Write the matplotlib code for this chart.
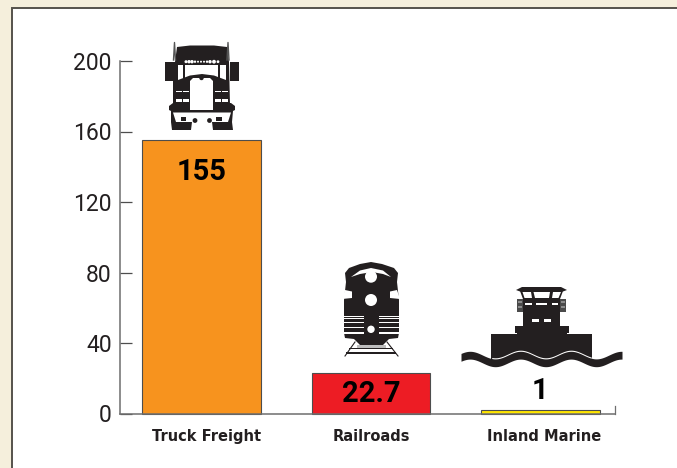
import matplotlib
matplotlib.use("Agg")
import matplotlib.pyplot as plt
import numpy as np
from matplotlib.patches import Circle, Polygon, Rectangle
from matplotlib.transforms import ScaledTranslation

categories = ["Truck Freight", "Railroads", "Inland Marine"]
values = [155, 22.7, 1]
value_labels = ["155", "22.7", "1"]
bar_colors = ["#F7931E", "#ED1C24", "#FFE600"]
y_ticks = [0, 40, 80, 120, 160, 200]

W, H = 677, 468
DARK = "#231F20"
plt.rcParams["font.family"] = ["Roboto", "DejaVu Sans"]

fig = plt.figure(figsize=(W / 100, H / 100), dpi=100, facecolor="#F5EFDC")

# pixel overlay for the panel and the icons
bg = fig.add_axes([0, 0, 1, 1], zorder=0)
bg.set_xlim(0, W)
bg.set_ylim(H, 0)
bg.axis("off")
bg.add_patch(Rectangle((11.5, 8), W, H, fc="white", ec="#55524C", lw=1.4))

ax = fig.add_axes([120 / W, 1 - 413.5 / H, 495 / W, 352.5 / H], zorder=1)
ax.patch.set_alpha(0)
x = np.arange(len(categories))
# the source gives the smallest bar a minimum height so its colour shows
shown = [max(v, 1.8) for v in values]
ax.bar(x, shown, width=0.7, color=bar_colors, edgecolor="#4D4D4D", linewidth=0.8, clip_on=False)
ax.set_xlim(-0.481, 2.44)
ax.set_ylim(0, 200)
ax.set_yticks(y_ticks)
ax.set_xticks(x, categories, fontweight="bold", fontsize=10.5, color=DARK, family=["DejaVu Sans"])
ax.tick_params(axis="y", direction="in", length=8.5, width=0.9, color="#4D4D4D", labelsize=16.5,
               labelcolor=DARK, pad=6)
ax.tick_params(axis="x", length=0, pad=11)
# the category labels sit a little right of their bars in the source
for lbl, dx in zip(ax.get_xticklabels(), [5, 0, 3.5]):
    lbl.set_transform(lbl.get_transform() + ScaledTranslation(dx / 100, 0, fig.dpi_scale_trans))
for side in ["top", "right"]:
    ax.spines[side].set_visible(False)
for side in ["left", "bottom"]:
    ax.spines[side].set_color("#6E6E6E")
    ax.spines[side].set_linewidth(1.1)
ax.plot([1, 1], [0, 0.022], transform=ax.transAxes, color="#6E6E6E", lw=0.9, clip_on=False)

label_y = [137, 11, 13]
for xi, text, yi in zip(x, value_labels, label_y):
    ax.text(xi, yi, text, ha="center", va="center", fontsize=21, fontweight="bold", color="black")


def poly(pts, color=DARK, z=2):
    bg.add_patch(Polygon(pts, closed=True, fc=color, ec="none", zorder=z))


def box(x0, y0, x1, y1, color=DARK, z=2):
    bg.add_patch(Rectangle((x0, y0), x1 - x0, y1 - y0, fc=color, ec="none", zorder=z))


def dot(cx, cy, r, color="white", z=3):
    bg.add_patch(Circle((cx, cy), r, fc=color, ec="none", zorder=z))


# truck
poly([(175, 62), (177, 47), (190, 45.5), (214, 45.5), (227, 47), (229, 62), (230, 105), (173, 105), (173, 62)])
box(164.5, 62, 173.5, 81)
box(229.5, 62, 238.5, 81)
for sx in [174.5, 228]:
    bg.plot([sx - 1, sx, sx + 1], [60, 42.5, 60], color="#555555", lw=1, zorder=2)
poly([(178, 65), (226, 65), (226, 80), (214, 75.5), (202, 74), (190, 75.5), (178, 80)], "white", 3)
box(183, 65, 185, 78, DARK, 3)
box(218, 65, 220, 78, DARK, 3)
poly([(190, 81), (193, 78), (210, 78), (213, 81), (213, 110), (190, 110)], "white", 4)
dot(201.5, 78, 2.2, DARK, 5)
for lx, lr in zip([186, 189, 192, 195, 198, 201, 204, 207, 210, 214, 218], [1.5, 1.7, 1.7, 1.2, 1, 1, 1, 1.2, 1.7, 1.9, 1.4]):
    dot(lx, 61.7, lr)
for lx0, lx1 in [(176, 181.5), (183, 188.5), (215, 220.5), (222, 227.5)]:
    box(lx0, 98.5, lx1, 102, "white", 3)
    box(lx0, 90.5, lx1, 91.5, "white", 3)
poly([(169, 106), (173, 103), (231, 103), (235, 106), (235, 110), (231, 112), (173, 112), (169, 110)])
poly([(171, 111), (233, 111), (232, 122), (233, 130), (213, 130), (212, 122), (192, 122), (191, 130), (172, 130), (171, 122)])
poly([(173, 112.5), (231, 112.5), (228, 122), (176, 122)], "white", 3)
for bx0, bx1 in [(181, 186), (216, 222)]:
    box(bx0, 117, bx1, 120.5, DARK, 4)
dot(195, 120.5, 2.4, DARK, 4)
dot(209.5, 120.5, 2.4, DARK, 4)

# locomotive
poly([(345, 273), (349, 268), (360, 264), (371, 262), (382, 264), (394, 268), (398, 273),
      (397, 282), (399, 300), (399, 333), (398, 338), (389, 339), (383, 345),
      (360, 345), (354, 339), (345, 338), (344, 333), (344, 300), (346, 282)])
poly([(351, 277), (360, 270.5), (371, 268), (383, 270.5), (391, 277), (383, 274), (372, 272),
      (360, 274)], "white", 3)
dot(371, 276.7, 6)
dot(371, 300, 6)
dot(371, 329.3, 3.7)
poly([(342, 299), (345, 290), (352, 291.5), (352, 298)], "white", 3)
poly([(400, 299), (397, 290), (390, 291.5), (390, 298)], "white", 3)
for sy, sh in [(315.8, 1), (318.3, 0.9), (321.5, 1), (327, 1.4), (332, 1.6)]:
    box(344, sy, 364, sy + sh, "white", 3)
    box(379, sy, 399, sy + sh, "white", 3)
box(357, 345, 386, 347.5, "#BDBDBD", 2)
box(349, 348, 393, 349, DARK, 2)
box(346, 352, 396, 353.5, DARK, 2)
bg.plot([355, 345], [342, 356], color=DARK, lw=0.8, zorder=2)
bg.plot([387, 398], [342, 356], color=DARK, lw=0.8, zorder=2)

# boat
box(491, 334, 592, 362)
box(514.5, 326, 569, 332.5)
box(517, 332, 567, 334.5)
poly([(520, 291), (563, 291), (560, 299), (523, 299)])
box(523, 298, 560, 326)
poly([(516, 290), (522, 287), (561, 287), (567, 290), (563, 291.5), (520, 291.5)])
for pane in [[(522.5, 292), (531, 292), (532, 298), (524.5, 298)],
             [(533.5, 292), (550, 292), (549, 298), (535, 298)],
             [(553, 292), (561, 292), (558.5, 298), (552, 298)]]:
    poly(pane, "white", 3)
for wx in [(525, 532), (536, 547), (552, 558)]:
    box(wx[0], 302.5, wx[1], 304.5, "white", 3)
for wx in [(532, 539), (544, 551)]:
    box(wx[0], 319, wx[1], 321.5, "white", 3)
for rx0, rx1 in [(517, 523), (560, 566)]:
    box(rx0, 299, rx1, 312, "#4A4A4A")
    box(rx0 + 1, 301, rx1 - 1, 303, "#8C8C8C", 3)
    box(rx0 + 1, 306, rx1 - 1, 307.5, "#8C8C8C", 3)

wave_x = np.linspace(461, 622, 200)
wave_y = 359 - 3.8 * np.cos((wave_x - 470) * 2 * np.pi / 50.5)
mask = (wave_x > 491) & (wave_x < 592)
bg.fill_between(wave_x[mask], wave_y[mask] - 5, 372, color="white", zorder=3, lw=0)
bg.fill_between(wave_x, wave_y - 3.9, wave_y + 3.9, color=DARK, zorder=4, lw=0)

fig.savefig("out.png", dpi=100, facecolor=fig.get_facecolor())
